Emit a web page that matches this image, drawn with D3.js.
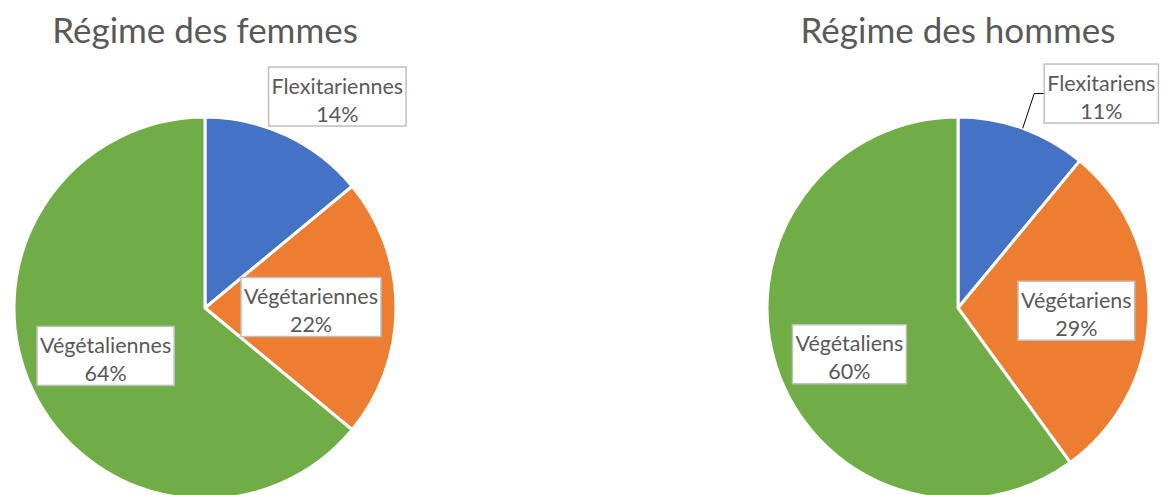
<!DOCTYPE html>
<meta charset="utf-8">
<style>
body { margin: 0; background: #fff; }
text { font-family: Lato, "Open Sans", sans-serif; fill: #595959; }
.title { font-size: 35px; }
.lbl { font-size: 21.5px; }
.box { fill: #fff; stroke: #bfbfbf; stroke-width: 1.5px; }
.leader { fill: none; stroke: #000; stroke-width: 1px; }
</style>
<body></body>
<script src="https://d3js.org/d3.v7.min.js"></script>
<script>

var titles = ["Régime des femmes", "Régime des hommes"];
var femmesLabels = ["Flexitariennes", "Végétariennes", "Végétaliennes"];
var hommesLabels = ["Flexitariens", "Végétariens", "Végétaliens"];
var femmesValues = [14, 22, 64];
var hommesValues = [11, 29, 60];
var colors = ["#4472c4", "#ed7d31", "#70ad47"];

var width = 1167,
    height = 495;

var svg = d3.select("body").append("svg")
    .attr("width", width)
    .attr("height", height);

var radius = 191;
var cx = d3.scalePoint().domain([0, 1]).range([205, 958]);
var cy = 308;

var pie = d3.pie().sort(null).value(function(d) { return d.value; });
var arc = d3.arc().innerRadius(0).outerRadius(radius);

var charts = [
  {title: titles[0], labels: femmesLabels, values: femmesValues, inner: [0.555, 0.58], leader: false},
  {title: titles[1], labels: hommesLabels, values: hommesValues, inner: [0.62, 0.62], leader: true}
];

charts.forEach(function(c, k) {
  var g = svg.append("g")
      .attr("transform", "translate(" + cx(k) + "," + cy + ")");

  svg.append("text")
      .attr("class", "title")
      .attr("x", cx(k))
      .attr("y", 43)
      .attr("text-anchor", "middle")
      .text(c.title);

  var data = pie(c.values.map(function(v, i) { return {label: c.labels[i], value: v}; }));

  g.selectAll("path")
    .data(data)
    .enter().append("path")
      .attr("d", arc)
      .attr("fill", function(d, i) { return colors[i]; })
      .attr("stroke", "#fff")
      .attr("stroke-width", 3)
      .attr("stroke-linejoin", "miter");

  data.forEach(function(d, i) {
    var mid = (d.startAngle + d.endAngle) / 2, x, y;
    if (i === 0) {
      // small slice: label sits outside, up and to the right
      var a = 33 * Math.PI / 180, r = radius * 1.32;
      x = r * Math.sin(a) + (k ? 6 : -5);
      y = -r * Math.cos(a) + (k ? -2 : 1);
    } else {
      var rr = radius * c.inner[i - 1];
      var am = i === 2 ? mid - (k ? 5.5 : 1) * Math.PI / 180 : mid;
      x = rr * Math.sin(am);
      y = -rr * Math.cos(am);
    }

    var lg = g.append("g").attr("transform", "translate(" + x + "," + y + ")");
    var rect = lg.append("rect").attr("class", "box");
    var t = lg.append("text")
        .attr("class", "lbl")
        .attr("text-anchor", "middle");
    t.append("tspan").attr("x", 0).attr("y", -4).text(d.data.label);
    t.append("tspan").attr("x", 0).attr("y", 24).text(d.data.value + "%");

    var bb = t.node().getBBox();
    var w = bb.width + 6, h = 59;
    rect.attr("x", -w / 2).attr("y", -h / 2 - 1).attr("width", w).attr("height", h);

    if (i === 0 && c.leader) {
      var px = radius * Math.sin(mid), py = -radius * Math.cos(mid);
      var bx = x - w / 2, by = y - 1;
      g.insert("path", "g")
          .attr("class", "leader")
          .attr("d", "M" + bx + "," + by + "H" + (bx - 10) + "L" + px + "," + py);
    }
  });
});

</script>
